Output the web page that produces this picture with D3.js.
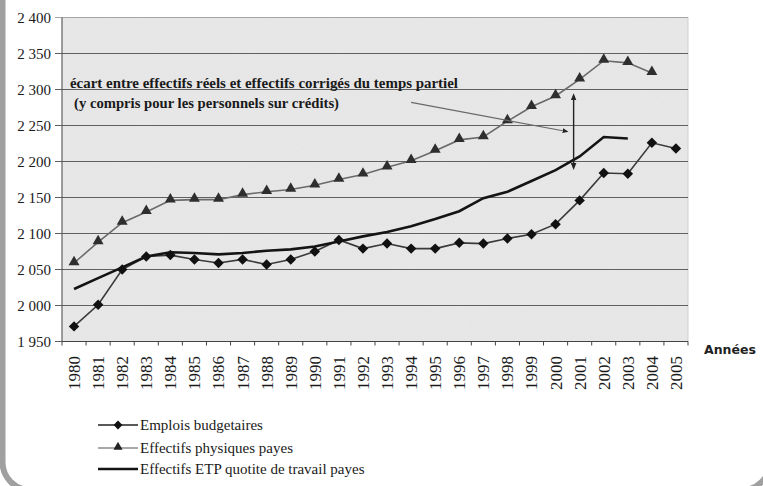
<!DOCTYPE html>
<html>
<head>
    <meta charset="utf-8">
    <title>Emplois et effectifs 1980-2005</title>
    <script src="https://cdn.jsdelivr.net/npm/d3@7/dist/d3.min.js"></script>
    <style>
        html, body { margin: 0; padding: 0; background: #fff; }
        svg { display: block; }
        .serif { font-family: "Liberation Serif", "Times New Roman", serif; fill: #1a1a1a; }
    </style>
</head>
<body>
<svg id="chart" width="763" height="486"></svg>
<script>
    // years on the x axis
    const years = ["1980","1981","1982","1983","1984","1985","1986","1987","1988","1989","1990",
        "1991","1992","1993","1994","1995","1996","1997","1998","1999","2000","2001","2002","2003","2004","2005"];

    // series values
    const emploisBudgetaires = [1971, 2001, 2050, 2068, 2070, 2064, 2059, 2064, 2057, 2064, 2075,
        2091, 2079, 2086, 2079, 2079, 2087, 2086, 2093, 2099, 2113, 2146, 2184, 2183, 2226, 2218];
    const effectifsPhysiques = [2059, 2088, 2115, 2130, 2146, 2147, 2147, 2154, 2158, 2161, 2167,
        2175, 2182, 2192, 2201, 2215, 2230, 2234, 2256, 2276, 2291, 2314, 2340, 2337, 2323];
    const effectifsETP = [2023, 2038, 2053, 2068, 2074, 2073, 2071, 2073, 2076, 2078, 2082,
        2089, 2096, 2102, 2110, 2120, 2131, 2149, 2158, 2173, 2188, 2207, 2234, 2232];

    const yTicks = [1950, 2000, 2050, 2100, 2150, 2200, 2250, 2300, 2350, 2400];

    const legendLabels = ["Emplois budgetaires", "Effectifs physiques payes", "Effectifs ETP quotite de travail payes"];
    const noteLines = ["écart entre effectifs réels et effectifs corrigés du temps partiel",
        "(y compris pour les personnels sur crédits)"];

    const svg = d3.select("#chart");
    const plot = { left: 62, right: 688, top: 17.5, bottom: 341.5 };

    const x = d3.scaleBand().domain(years).range([plot.left, plot.right]);
    const y = d3.scaleLinear().domain([1950, 2400]).range([plot.bottom, plot.top]);
    const cx = d => x(d) + x.bandwidth() / 2;
    const fmt = d3.formatLocale({ decimal: ",", thousands: " ", grouping: [3], currency: ["", ""] }).format(",");

    // grain for the scanned look
    const defs = svg.append("defs");
    const f = defs.append("filter").attr("id", "grain").attr("x", 0).attr("y", 0).attr("width", 1).attr("height", 1);
    f.append("feTurbulence").attr("type", "fractalNoise").attr("baseFrequency", 0.9).attr("numOctaves", 2).attr("seed", 3);
    f.append("feColorMatrix").attr("type", "matrix")
        .attr("values", "0 0 0 0 0.45  0 0 0 0 0.45  0 0 0 0 0.45  0 0 0 0.09 0");
    f.append("feComposite").attr("in2", "SourceGraphic").attr("operator", "in");

    defs.append("marker").attr("id", "arrow").attr("viewBox", "0 0 10 10")
        .attr("refX", 5).attr("refY", 5).attr("markerWidth", 5).attr("markerHeight", 5)
        .attr("orient", "auto-start-reverse")
        .append("path").attr("d", "M0,1L10,5L0,9Z").attr("fill", "#222");

    // outer frame (only left side and bottom corners show)
    svg.append("rect").attr("x", 2.5).attr("y", -40).attr("width", 767.5).attr("height", 530)
        .attr("rx", 28).attr("fill", "none").attr("stroke", "#a0a0a0").attr("stroke-width", 6);

    // plot background
    svg.append("rect").attr("x", plot.left).attr("y", plot.top)
        .attr("width", plot.right - plot.left).attr("height", plot.bottom - plot.top)
        .attr("fill", "#e9e9e9").attr("stroke", "#d0d0d0");
    svg.append("rect").attr("x", plot.left).attr("y", plot.top)
        .attr("width", plot.right - plot.left).attr("height", plot.bottom - plot.top)
        .attr("fill", "#e9e9e9").attr("filter", "url(#grain)");

    // gridlines + y labels
    svg.append("g").selectAll("line").data(yTicks).join("line")
        .attr("x1", plot.left - 7).attr("x2", plot.right)
        .attr("y1", d => y(d)).attr("y2", d => y(d))
        .attr("stroke", d => d === 2400 ? "#a5a5a5" : "#606060").attr("stroke-width", 1.1);
    svg.append("line").attr("x1", plot.left).attr("x2", plot.left)
        .attr("y1", plot.top).attr("y2", plot.bottom).attr("stroke", "#555");
    svg.append("g").selectAll("text").data(yTicks).join("text")
        .attr("class", "serif").attr("x", 51).attr("y", d => y(d)).attr("dy", "0.35em")
        .attr("text-anchor", "end").style("font-size", "15px").text(d => fmt(d));

    // x axis ticks and labels
    svg.append("line").attr("x1", plot.left).attr("x2", plot.right)
        .attr("y1", plot.bottom).attr("y2", plot.bottom).attr("stroke", "#444").attr("stroke-width", 1.2);
    svg.append("g").selectAll("line").data(years.concat(["end"])).join("line")
        .attr("x1", d => d === "end" ? plot.right : x(d)).attr("x2", d => d === "end" ? plot.right : x(d))
        .attr("y1", plot.bottom).attr("y2", plot.bottom + 4).attr("stroke", "#444");
    svg.append("g").selectAll("text").data(years).join("text")
        .attr("class", "serif")
        .attr("transform", d => `translate(${cx(d)},356) rotate(-90)`)
        .attr("text-anchor", "end").attr("dy", "0.35em")
        .style("font-size", "17px").text(d => d);

    svg.append("text").attr("x", 704).attr("y", 354)
        .style("font-family", "'DejaVu Sans', sans-serif").style("font-weight", "bold")
        .style("font-size", "12.5px").attr("fill", "#222").text("Années");

    // lines
    const line = d3.line().x(d => cx(d[0])).y(d => y(d[1]));
    const pairs = arr => arr.map((v, i) => [years[i], v]);

    svg.append("path").datum(pairs(effectifsPhysiques)).attr("d", line)
        .attr("fill", "none").attr("stroke", "#6a6a6a").attr("stroke-width", 1.6);
    svg.append("path").datum(pairs(emploisBudgetaires)).attr("d", line)
        .attr("fill", "none").attr("stroke", "#3a3a3a").attr("stroke-width", 1.6);
    svg.append("path").datum(pairs(effectifsETP)).attr("d", line)
        .attr("fill", "none").attr("stroke", "#141414").attr("stroke-width", 2.6);

    const diamond = d3.symbol().type(d3.symbolDiamond2).size(70);
    const triangle = d3.symbol().type(d3.symbolTriangle).size(52);

    svg.append("g").selectAll("path").data(pairs(effectifsPhysiques)).join("path")
        .attr("transform", d => `translate(${cx(d[0])},${y(d[1]) - 1})`)
        .attr("d", triangle).attr("fill", "#2e2e2e");
    svg.append("g").selectAll("path").data(pairs(emploisBudgetaires)).join("path")
        .attr("transform", d => `translate(${cx(d[0])},${y(d[1])})`)
        .attr("d", diamond).attr("fill", "#111");

    // annotation
    const note = svg.append("g");
    note.append("text").attr("class", "serif").attr("x", 70).attr("y", 88)
        .style("font-size", "14px").style("font-weight", "bold")
        .attr("textLength", 388).attr("lengthAdjust", "spacingAndGlyphs").text(noteLines[0]);
    note.append("text").attr("class", "serif").attr("x", 74).attr("y", 108)
        .style("font-size", "14px").style("font-weight", "bold")
        .attr("textLength", 265).attr("lengthAdjust", "spacingAndGlyphs").text(noteLines[1]);

    const arrowFrom = ["1994", 2282], arrowTo = ["2001", 2242];
    note.append("line")
        .attr("x1", cx(arrowFrom[0])).attr("y1", y(arrowFrom[1]))
        .attr("x2", x(arrowTo[0]) - 2).attr("y2", y(arrowTo[1]))
        .attr("stroke", "#6a6a6a").attr("stroke-width", 1.2).attr("marker-end", "url(#arrow)");
    const gapYear = "2001", gapTop = 2290, gapBottom = 2193;
    note.append("line")
        .attr("x1", x(gapYear) + 6).attr("x2", x(gapYear) + 6)
        .attr("y1", y(gapTop)).attr("y2", y(gapBottom))
        .attr("stroke", "#222").attr("stroke-width", 1.4)
        .attr("marker-start", "url(#arrow)").attr("marker-end", "url(#arrow)");

    // legend
    const legend = svg.append("g").attr("transform", "translate(98,425)");
    const rows = legend.selectAll("g").data(legendLabels).join("g")
        .attr("transform", (d, i) => `translate(0,${[0, 23, 44][i]})`);
    rows.append("line").attr("x1", 0).attr("x2", 40).attr("y1", 0).attr("y2", 0)
        .attr("stroke", (d, i) => ["#222", "#555", "#141414"][i])
        .attr("stroke-width", (d, i) => [1.4, 1.2, 2.6][i]);
    rows.filter((d, i) => i === 0).append("path").attr("transform", "translate(20,0)")
        .attr("d", d3.symbol().type(d3.symbolDiamond2).size(50)).attr("fill", "#111");
    rows.filter((d, i) => i === 1).append("path").attr("transform", "translate(20,-1)")
        .attr("d", d3.symbol().type(d3.symbolTriangle).size(36)).attr("fill", "#222");
    rows.append("text").attr("class", "serif").attr("x", 42).attr("dy", "0.35em")
        .style("font-size", "15px").text(d => d);
</script>
</body>
</html>
